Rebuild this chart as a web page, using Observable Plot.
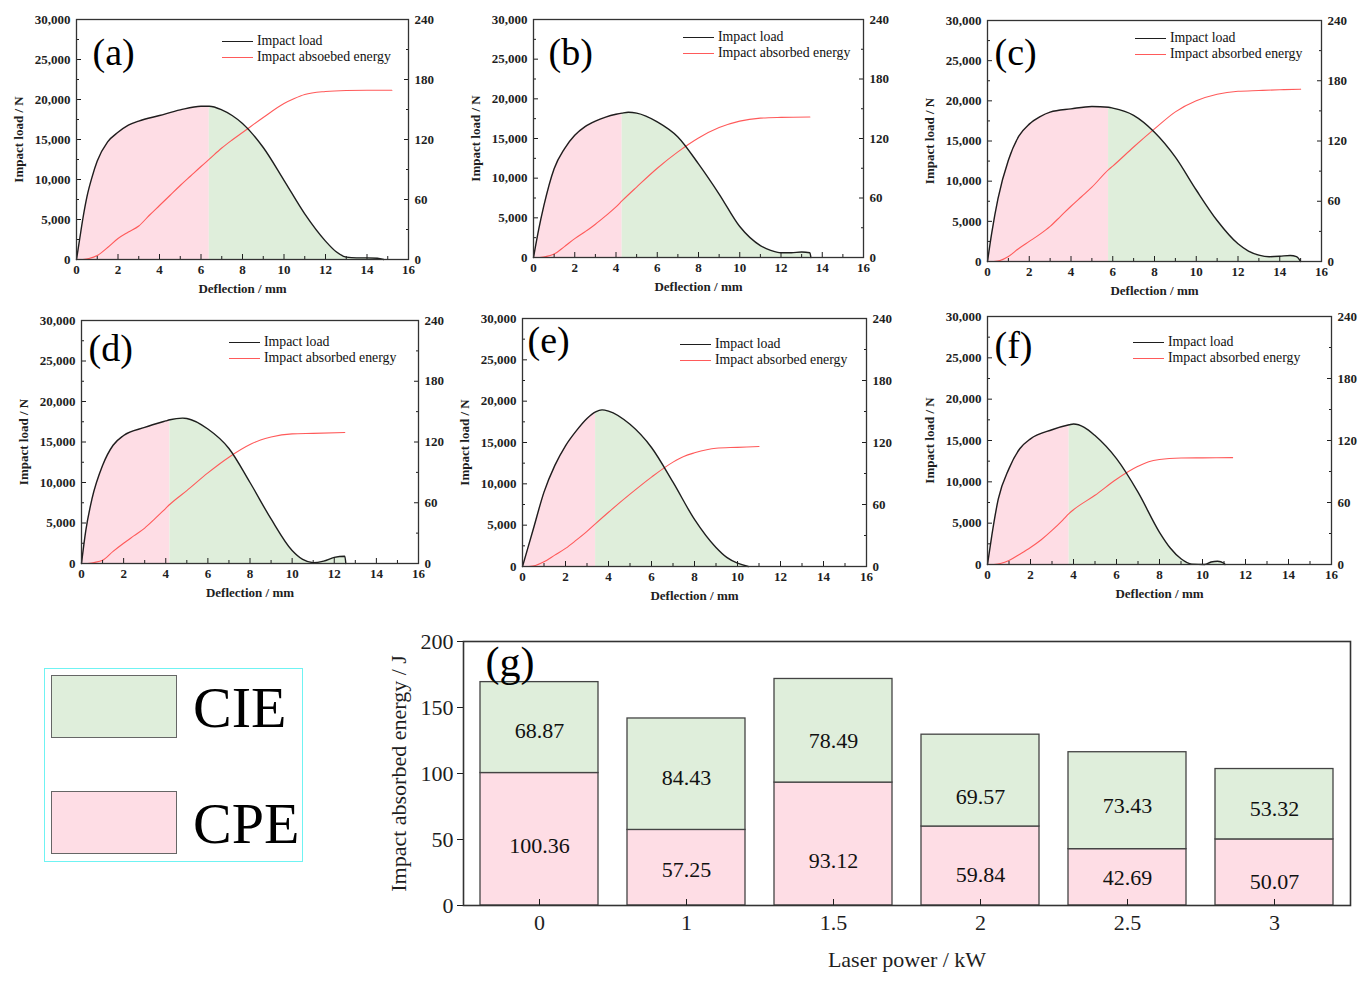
<!DOCTYPE html>
<html>
<head>
<meta charset="utf-8">
<script src="https://cdn.jsdelivr.net/npm/d3@7"></script>
<script src="https://cdn.jsdelivr.net/npm/@observablehq/plot@0.6"></script>
<style>
  body { margin: 0; background: #fff; }
  #fig { position: relative; width: 1372px; height: 981px; overflow: hidden;
         font-family: "Liberation Serif", "Times New Roman", serif; color: #111; }
  #fig svg { position: absolute; overflow: visible; }
  .leg { position: absolute; font-size: 13.8px; line-height: 16px; white-space: nowrap; color: #111; }
  .leg .sw { display: inline-block; width: 31px; height: 0; border-top: 1.6px solid; vertical-align: middle; margin-right: 4px; }
  #key { position: absolute; left: 44px; top: 668px; width: 257px; height: 192px; border: 1.5px solid #6ff3f3; }
  #key .box { position: absolute; left: 6px; width: 124px; height: 61px; border: 1.5px solid #666; }
  #key .name { position: absolute; left: 148px; font-size: 58px; line-height: 58px; color: #000; }
</style>
</head>
<body>
<div id="fig"></div>
<script>
// ---- Load–deflection curves, [deflection mm, load N] ----
const loadA = [[0,0],[0.15,2500],[0.3,5000],[0.5,7800],[0.75,10300],[1,12300],[1.5,14700],[2,15900],[2.5,16800],[3,17300],[4,18000],[5,18700],[6,19150],[6.4,19150],[7,18700],[7.5,18000],[8,17000],[9,14000],[10,9900],[11,5700],[12,2300],[12.5,1000],[13,300],[13.5,200],[14,200],[14.5,150],[14.8,0]];
const loadB = [[0,0],[0.25,3500],[0.5,6500],[1,11200],[1.5,13700],[2,15400],[2.5,16500],[3,17200],[3.5,17700],[4,18050],[4.3,18200],[4.6,18300],[5,18200],[6,17100],[7,15200],[8,11800],[9,8000],[10,3900],[11,1500],[11.5,900],[12,600],[12.5,600],[13,700],[13.4,600],[13.45,0]];
const loadC = [[0,0],[0.2,3500],[0.5,7800],[1,12600],[1.5,15600],[2,17100],[2.5,18000],[3,18600],[4,19000],[5,19300],[5.8,19200],[6,19100],[7,18200],[8,16100],[9,13000],[10,8900],[11,5100],[12,2200],[12.5,1300],[13,800],[13.5,600],[14,650],[14.5,750],[14.8,600],[15,0]];
const loadD = [[0,0],[0.2,4000],[0.5,8000],[1,12100],[1.5,14600],[2,15800],[3,16800],[4,17600],[4.2,17750],[4.8,17950],[5,17900],[6,16600],[7,14200],[8,10000],[9,5500],[10,1600],[10.5,500],[11,100],[11.5,300],[12,750],[12.5,900],[12.55,0]];
const loadE = [[0,0],[0.5,4500],[1,9000],[1.5,12200],[2,14600],[2.5,16400],[3,17900],[3.4,18700],[3.7,18950],[4,18800],[5,17200],[6,14400],[7,10200],[8,5700],[9,2300],[9.5,1100],[10,400],[10.5,0]];
const loadF = [[0,0],[0.2,3500],[0.5,7900],[1,11600],[1.5,14000],[2,15200],[3,16300],[3.8,16900],[4,17000],[4.5,16600],[5,15600],[6,12800],[7,8750],[8,3900],[8.5,2000],[9,700],[9.5,50],[10.1,0],[10.4,300],[10.7,400],[11,150],[11.05,0]];

// ---- Absorbed energy curves, [deflection mm, energy J] ----
const energyA = [[0.3,0],[0.6,1],[1,4],[1.5,12],[2,21],[2.5,27.5],[3,33.5],[3.5,44],[4,54],[4.5,64],[5,74],[5.5,83.5],[6,93],[6.4,100.36],[7,111.5],[7.5,119.5],[8,127],[9,142],[10,156],[10.5,161],[11,165],[12,168],[13,169],[14,169.2],[15.2,169.23]];
const energyB = [[0.3,0],[0.6,1],[1,3.5],[1.5,11],[2,19],[2.5,26],[3,33.5],[3.5,42],[4,51],[4.3,57.25],[5,71],[6,90],[7,106.5],[8,120.5],[9,131],[10,137.5],[11,140.5],[12,141.3],[13.4,141.68]];
const energyC = [[0.3,0],[0.6,1],[1,5],[1.5,13],[2,20],[2.5,27],[3,35],[3.5,45],[4,55],[4.5,64.5],[5,74],[5.8,91.5],[6,95],[7,114],[8,132],[9,149],[10,160],[11,166.5],[12,169.5],[13,170.3],[14,171],[15,171.61]];
const energyD = [[0.3,0],[0.6,1],[1,3.3],[1.5,12],[2,20],[2.5,27.5],[3,35],[3.5,44.5],[4,54.5],[4.2,58.5],[5,72],[6,89.5],[7,105],[8,117.5],[8.5,122],[9,125],[10,128],[11,128.5],[12.5,129.41]];
const energyE = [[0.3,0],[0.6,1],[1,4.5],[1.5,11],[2,17.5],[2.5,25.5],[3,34],[3.4,41.5],[4,52.5],[5,70],[6,86.5],[7,101],[7.5,106.5],[8,110],[9,114.5],[10,115.3],[11,116.12]];
const energyF = [[0.3,0],[0.6,1],[1,3.9],[1.5,10],[2,16.5],[2.5,24],[3,33],[3.5,43],[3.8,49.5],[4,53],[5,67],[6,82.5],[7,95],[7.5,99.5],[8,101.6],[9,103],[10,103.2],[11.4,103.39]];

// Deflection at which the crack-initiation stage ends (peak load)
const splitAt = [6.4, 4.3, 5.8, 4.2, 3.4, 3.8];
const panelLetters = ["(a)", "(b)", "(c)", "(d)", "(e)", "(f)"];
const energyLegend = ["Impact absoebed energy", "Impact absorbed energy", "Impact absorbed energy",
                      "Impact absorbed energy", "Impact absorbed energy", "Impact absorbed energy"];

// ---- Summary bars: laser power vs. absorbed energy split ----
const laserPower = ["0", "1", "1.5", "2", "2.5", "3"];
const cpeEnergy = [100.36, 57.25, 93.12, 59.84, 42.69, 50.07];
const cieEnergy = [68.87, 84.43, 78.49, 69.57, 73.43, 53.32];

const PINK = "#fedde5", GREEN = "#dfeedb", RED = "#ff5a5a", INK = "#1e1e1e";
const SERIF = '"Liberation Serif", "Times New Roman", serif';
const N_PER_J = 125; // 30,000 N on the left axis lines up with 240 J on the right

// Frame boxes of the six small panels (left, right, top, bottom) and label offsets
const layout = [
  {L: 76,  R: 408,  T: 19,  B: 259, legR: 186, legT: 22, ldx: 16, ldy: 33},
  {L: 533, R: 863,  T: 19,  B: 257, legR: 180, legT: 18, ldx: 15, ldy: 33},
  {L: 987, R: 1321, T: 20,  B: 261, legR: 186, legT: 18, ldx: 7,  ldy: 32},
  {L: 81,  R: 418,  T: 320, B: 563, legR: 189, legT: 22, ldx: 7,  ldy: 28},
  {L: 522, R: 866,  T: 318, B: 566, legR: 186, legT: 26, ldx: 5,  ldy: 22},
  {L: 987, R: 1331, T: 316, B: 564, legR: 198, legT: 26, ldx: 7,  ldy: 29}
];
// vertical nudges (px) of the value labels inside the bar segments
const cpeLabelDy = [4, -1, 14, 6, -2, 6];
const cieLabelDy = [0, 1, 7, 13, 2, 2];

const loads = [loadA, loadB, loadC, loadD, loadE, loadF];
const energies = [energyA, energyB, energyC, energyD, energyE, energyF];

const fig = document.getElementById("fig");

function place(svg, left, top) {
  svg.style.left = left + "px";
  svg.style.top = top + "px";
  fig.appendChild(svg);
}

function drawPanel(i) {
  const g = layout[i];
  const mL = 76, mR = 52, mT = 19, mB = 51;
  const width = g.R - g.L + mL + mR, height = g.B - g.T + mT + mB;
  const load = loads[i].map(([x, y]) => ({x, y}));
  const energy = energies[i].map(([x, e]) => ({x, y: e * N_PER_J}));
  const split = splitAt[i];
  const svg = Plot.plot({
    width, height,
    marginLeft: mL, marginRight: mR, marginTop: mT, marginBottom: mB,
    style: {fontFamily: SERIF, fontSize: "13px", background: "none", color: INK},
    x: {domain: [0, 16]},
    y: {domain: [0, 30000]},
    marks: [
      Plot.areaY(load.filter(d => d.x <= split), {x: "x", y: "y", fill: PINK, curve: "monotone-x"}),
      Plot.areaY(load.filter(d => d.x >= split), {x: "x", y: "y", fill: GREEN, curve: "monotone-x"}),
      Plot.line(energy, {x: "x", y: "y", stroke: RED, strokeWidth: 1.1, curve: "monotone-x"}),
      Plot.line(load, {x: "x", y: "y", stroke: INK, strokeWidth: 1.4, curve: "monotone-x"}),
      Plot.axisX(d3.range(0, 17, 2), {tickSize: -5, tickPadding: 10, fontWeight: "bold",
        label: "Deflection / mm", labelAnchor: "center", labelOffset: 33, labelArrow: "none"}),
      Plot.axisX(d3.range(1, 17, 2), {tickSize: -3, tickFormat: () => "", label: null}),
      Plot.axisY(d3.range(0, 30001, 5000), {anchor: "left", tickSize: -5, tickPadding: 11, fontWeight: "bold",
        tickFormat: d3.format(","), label: "Impact load / N", labelAnchor: "center", labelOffset: 63, labelArrow: "none"}),
      Plot.axisY(d3.range(2500, 30000, 5000), {anchor: "left", tickSize: -3, tickFormat: () => "", label: null}),
      Plot.axisY(d3.range(0, 30001, 7500), {anchor: "right", tickSize: -5, tickPadding: 11, fontWeight: "bold",
        tickFormat: d => d / N_PER_J, label: null}),
      Plot.axisY(d3.range(3750, 30000, 7500), {anchor: "right", tickSize: -3, tickFormat: () => "", label: null}),
      Plot.frame({stroke: "#333", strokeWidth: 1.3}),
      Plot.text([panelLetters[i]], {frameAnchor: "top-left", dx: g.ldx, dy: g.ldy, text: d => d,
        fontSize: 38, textAnchor: "start", lineAnchor: "middle", fill: "#000"})
    ]
  });
  place(svg, g.L - mL, g.T - mT);

  // in-panel legend
  const leg = document.createElement("div");
  leg.className = "leg";
  leg.style.left = (g.R - g.legR) + "px";
  leg.style.top = (g.T + g.legT - 8) + "px";
  leg.innerHTML =
    `<div><span class="sw" style="border-color:${INK}"></span>Impact load</div>` +
    `<div><span class="sw" style="border-color:${RED}"></span>${energyLegend[i]}</div>`;
  fig.appendChild(leg);
}

layout.forEach((_, i) => drawPanel(i));

// Stacked bars: CPE at the bottom, CIE on top
const rows = laserPower.flatMap((p, i) => [
  {power: p, part: "CPE", value: cpeEnergy[i], mid: cpeEnergy[i] / 2, nudge: cpeLabelDy[i]},
  {power: p, part: "CIE", value: cieEnergy[i], mid: cpeEnergy[i] + cieEnergy[i] / 2, nudge: cieLabelDy[i]}
]);
const bars = Plot.plot({
  width: 992, height: 361,
  marginLeft: 83, marginRight: 22, marginTop: 21, marginBottom: 76,
  style: {fontFamily: SERIF, fontSize: "22px", background: "none", color: INK},
  x: {domain: laserPower, paddingInner: 0.2, paddingOuter: 0.1},
  y: {domain: [0, 200]},
  color: {domain: ["CPE", "CIE"], range: [PINK, GREEN]},
  marks: [
    Plot.barY(rows, {x: "power", y: "value", fill: "part", stroke: "#444", strokeWidth: 1.3}),
    // each segment's value, written at the middle of its segment
    ...rows.map(r => Plot.text([r], {x: "power", y: "mid", text: d => d.value.toFixed(2),
      fontSize: 22, fill: "#111", dy: 3 + r.nudge})),
    Plot.axisY(d3.range(0, 201, 50), {tickSize: 6, tickPadding: 4,
      label: "Impact absorbed energy / J", labelAnchor: "center", labelOffset: 73, labelArrow: "none"}),
    Plot.axisX({tickSize: -6, tickPadding: 15,
      label: "Laser power / kW", labelAnchor: "center", labelOffset: 61, labelArrow: "none"}),
    Plot.frame({stroke: "#333", strokeWidth: 1.6}),
    Plot.text(["(g)"], {frameAnchor: "top-left", dx: 22, dy: 21, text: d => d,
      fontSize: 42, textAnchor: "start", lineAnchor: "middle", fill: "#000"})
  ]
});
place(bars, 380, 620);

// Stage key for the bar colours
const key = document.createElement("div");
key.id = "key";
key.innerHTML =
  `<div class="box" style="top:6px;background:${GREEN}"></div><div class="name" style="top:10px">CIE</div>` +
  `<div class="box" style="top:122px;background:${PINK}"></div><div class="name" style="top:126px">CPE</div>`;
fig.appendChild(key);
</script>
</body>
</html>
